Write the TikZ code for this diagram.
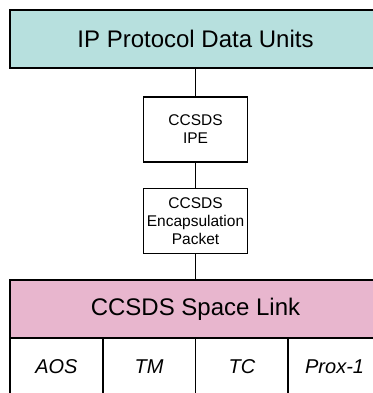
\documentclass[tikz,border=0pt]{standalone}
\usepackage{fontspec}
\setmainfont{Liberation Sans}
\definecolor{ipteal}{RGB}{183, 224, 222}
\definecolor{linkpink}{RGB}{232, 182, 206}
\usepackage{tikz}

\begin{document}
\begin{tikzpicture}[
    x=1pt, y=-1pt,
    every node/.style={draw, line width=1.5pt, inner sep=0pt, align=center},
    layer/.style={minimum width=371pt, minimum height=58pt, font=\fontsize{24}{28}\selectfont},
    packet/.style={minimum width=104pt, minimum height=65pt, fill=white, font=\fontsize{15.5}{18}\selectfont},
    cell/.style={minimum width=92.75pt, minimum height=58pt, font=\fontsize{20}{24}\selectfont\itshape},
    link/.style={line width=1.5pt}
  ]
    \useasboundingbox (0,0) rectangle (372,393);
    \node[layer, fill=ipteal] (ip) at (195.5,39) {IP Protocol Data Units};
    \node[packet] (ipe) at (195.5,129.5) {CCSDS\\IPE};
    \node[packet] (encap) at (195.5,221) {CCSDS\\Encapsulation\\Packet};
    \node[layer, fill=linkpink] (space) at (195.5,309) {CCSDS Space Link};
    \node[cell] (aos) at (56.4,367) {AOS};
    \node[cell] (tm) at (149.1,367) {TM};
    \node[cell] (tc) at (241.9,367) {TC};
    \node[cell] (prox) at (334.6,367) {Prox-1};
    \draw[link] (ip) -- (ipe);
    \draw[link] (ipe) -- (encap);
    \draw[link] (encap) -- (space);
  \end{tikzpicture}
\end{document}
